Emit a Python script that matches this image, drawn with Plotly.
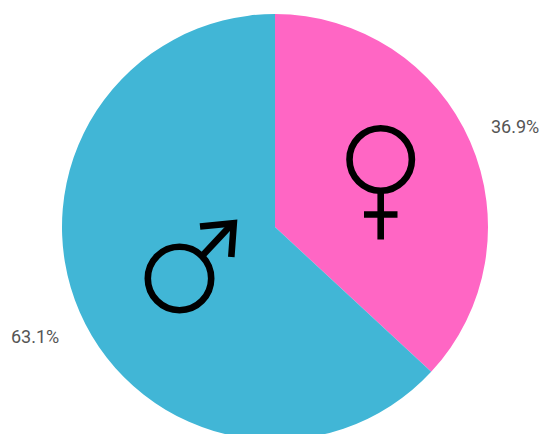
import plotly.graph_objects as go

labels = ["Female", "Male"]
values = [36.9, 63.1]
colors = ["#FF66C4", "#41B6D6"]
tick_labels = ["36.9%", "63.1%"]

W, H = 540, 454
CX, CY, R = 275, 227, 213


def px(x):
    return x / W


def py(y):
    return 1 - y / H


fig = go.Figure(
    go.Pie(
        labels=labels,
        values=values,
        sort=False,
        direction="clockwise",
        rotation=0,
        textinfo="none",
        hoverinfo="label+percent",
        marker=dict(colors=colors, line=dict(width=0)),
        domain=dict(x=[px(CX - R), px(CX + R)], y=[py(CY + R), py(CY - R)]),
        showlegend=False,
    )
)

line_k = dict(color="#000000", width=6.6)


def seg(x0, y0, x1, y1):
    return dict(type="line", xref="paper", yref="paper",
                x0=px(x0), y0=py(y0), x1=px(x1), y1=py(y1), line=line_k)


def circ(cx, cy, r):
    return dict(type="circle", xref="paper", yref="paper",
                x0=px(cx - r), y0=py(cy - r), x1=px(cx + r), y1=py(cy + r),
                line=line_k, fillcolor="rgba(0,0,0,0)")


def poly(pts):
    d = "M" + " L".join(f"{px(x):.5f},{py(y):.5f}" for x, y in pts)
    return dict(type="path", xref="paper", yref="paper", path=d, line=line_k)


shapes = [
    circ(380.7, 159.5, 31.2),
    seg(380.7, 191, 380.7, 239.5),
    seg(364, 214.5, 397.5, 214.5),
    circ(179.5, 278.5, 31.7),
    seg(203, 255, 232, 224),
    poly([(200, 226.5), (233.8, 223.2), (231.3, 257)]),
]

annotations = [
    dict(text=tick_labels[0], x=px(515), y=py(126.5), xref="paper", yref="paper",
         showarrow=False, xanchor="center", yanchor="middle"),
    dict(text=tick_labels[1], x=px(35), y=py(336.5), xref="paper", yref="paper",
         showarrow=False, xanchor="center", yanchor="middle"),
]

fig.update_layout(
    width=W,
    height=H,
    autosize=False,
    margin=dict(l=0, r=0, t=0, b=0),
    paper_bgcolor="#FFFFFF",
    font=dict(family="Roboto", size=18, color="#555555"),
    shapes=shapes,
    annotations=annotations,
)

fig.write_html(
    "out.html",
    config={"displayModeBar": False},
    post_script="document.body.style.margin='0';document.body.style.overflow='hidden';document.documentElement.style.overflow='hidden';",
)
